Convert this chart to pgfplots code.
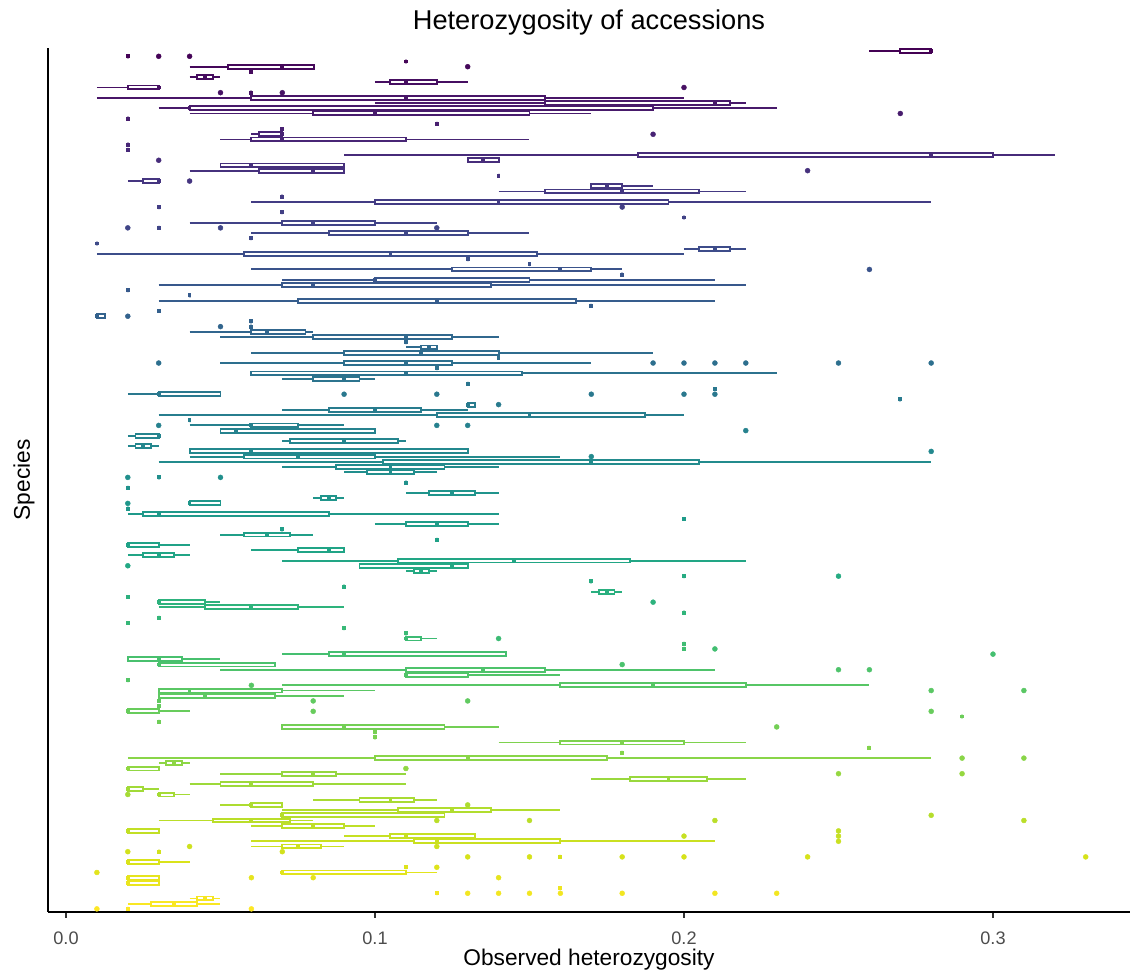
\documentclass[border=0pt]{standalone}
\usepackage{fontspec}
\setmainfont{Liberation Sans}
\usepackage{pgfplots}
\pgfplotsset{compat=1.18}
\usepgfplotslibrary{statistics}
% \bx{row}{lower whisker}{Q1}{median}{Q3}{upper whisker}{outliers}
\newcommand\bx[7]{%
  \edef\cv{\the\numexpr#1*1000/165\relax}%
  \edef\tmp{\noexpand\addplot[color of colormap=\cv, line width=0.95pt, mark=*, mark size=1.25pt, mark options={line width=0.2pt},
    boxplot prepared={draw position=\the\numexpr166-#1\relax, lower whisker=#2, lower quartile=#3, median=#4, upper quartile=#5, upper whisker=#6}] coordinates {#7};}%
  \tmp}
\newcommand\dg[3]{\bx{#1}{#2}{#2}{#2}{#2}{#2}{#3}}
\begin{document}
\begin{tikzpicture}
\useasboundingbox (-24pt,-30.5pt) rectangle (541pt,456pt);
\begin{axis}[
  at={(0,0)}, anchor=south west,
  scale only axis, width=541pt, height=432pt,
  xmin=-0.005825, xmax=0.34434, ymin=0.4, ymax=166.6,
  colormap/viridis,
  axis lines*=left, axis line style={line width=0.9pt, black, -},
  xtick={0,0.1,0.2,0.3}, xticklabels={0.0,0.1,0.2,0.3},
  ytick=\empty,
  tick align=outside, major tick length=3pt,
  xtick style={line width=0.9pt, black!80},
  /pgf/number format/assume math mode=true,
  xticklabel style={font=\fontsize{9.07}{10}\selectfont, text=black!70, anchor=base, yshift=-13.25pt},
  title={Heterozygosity of accessions},
  every axis title/.style={at={(axis description cs:0.5,1.02083)}, anchor=base, font=\fontsize{13.6}{15}\selectfont},
  xlabel={Observed heterozygosity},
  every axis x label/.style={at={(axis description cs:0.5,-0.0625)}, anchor=base, font=\fontsize{11.35}{13}\selectfont},
  ylabel={Species},
  every axis y label/.style={at={(axis description cs:-0.01664,0.5)}, rotate=90, anchor=base, font=\fontsize{11.35}{13}\selectfont},
  boxplot/draw direction=x,
  boxplot/box extend=0.75,
  boxplot/every box/.style={fill=white},
  boxplot/every median/.style={line width=1.9pt},
  boxplot/draw/lower whisker/.code={\draw (boxplot box cs:\pgfplotsboxplotvalue{lower whisker},0.5) -- (boxplot box cs:\pgfplotsboxplotvalue{lower quartile},0.5);},
  boxplot/draw/upper whisker/.code={\draw (boxplot box cs:\pgfplotsboxplotvalue{upper quartile},0.5) -- (boxplot box cs:\pgfplotsboxplotvalue{upper whisker},0.5);},
  clip=false,
]
\bx{0}{0.26}{0.27}{0.28}{0.28}{0.28}{}
\dg{1}{0.02}{(0,0.03) (0,0.04)}
\dg{2}{0.11}{}
\bx{3}{0.04}{0.0524}{0.07}{0.0804}{0.08}{(0,0.13)}
\dg{4}{0.06}{}
\bx{5}{0.04}{0.0425}{0.045}{0.0475}{0.05}{}
\bx{6}{0.10}{0.105}{0.11}{0.12}{0.13}{}
\bx{7}{0.01}{0.02}{0.03}{0.03}{0.03}{(0,0.20)}
\dg{8}{0.06}{(0,0.05) (0,0.07)}
\bx{9}{0.01}{0.06}{0.11}{0.155}{0.20}{}
\bx{10}{0.10}{0.155}{0.21}{0.215}{0.22}{}
\bx{11}{0.03}{0.04}{0.04}{0.19}{0.23}{}
\bx{12}{0.04}{0.08}{0.10}{0.15}{0.17}{(0,0.27)}
\dg{13}{0.02}{}
\dg{14}{0.12}{}
\dg{15}{0.07}{}
\bx{16}{0.06}{0.0625}{0.07}{0.07}{0.07}{(0,0.19)}
\bx{17}{0.05}{0.06}{0.07}{0.11}{0.15}{}
\dg{18}{0.02}{}
\dg{19}{0.02}{}
\bx{20}{0.09}{0.185}{0.28}{0.30}{0.32}{}
\bx{21}{0.13}{0.13}{0.135}{0.14}{0.14}{(0,0.03)}
\bx{22}{0.05}{0.05}{0.06}{0.09}{0.09}{}
\bx{23}{0.04}{0.0625}{0.08}{0.09}{0.09}{(0,0.24)}
\dg{24}{0.14}{}
\bx{25}{0.02}{0.025}{0.03}{0.03}{0.03}{(0,0.04)}
\bx{26}{0.17}{0.17}{0.175}{0.18}{0.19}{}
\bx{27}{0.14}{0.155}{0.18}{0.205}{0.22}{}
\dg{28}{0.07}{}
\bx{29}{0.06}{0.10}{0.14}{0.195}{0.28}{}
\dg{30}{0.03}{(0,0.18)}
\dg{31}{0.07}{}
\dg{32}{0.20}{}
\bx{33}{0.04}{0.07}{0.08}{0.10}{0.12}{}
\dg{34}{0.03}{(0,0.02) (0,0.05) (0,0.12)}
\bx{35}{0.06}{0.085}{0.11}{0.13}{0.15}{}
\dg{36}{0.06}{}
\dg{37}{0.01}{}
\bx{38}{0.20}{0.205}{0.21}{0.215}{0.22}{}
\bx{39}{0.01}{0.0575}{0.105}{0.1525}{0.20}{}
\dg{40}{0.13}{}
\dg{41}{0.15}{}
\bx{42}{0.06}{0.125}{0.16}{0.17}{0.18}{(0,0.26)}
\dg{43}{0.18}{}
\bx{44}{0.07}{0.10}{0.10}{0.15}{0.21}{}
\bx{45}{0.03}{0.07}{0.08}{0.1375}{0.22}{}
\dg{46}{0.02}{}
\dg{47}{0.04}{}
\bx{48}{0.03}{0.075}{0.12}{0.165}{0.21}{}
\dg{49}{0.17}{}
\dg{50}{0.03}{}
\bx{51}{0.01}{0.01}{0.01}{0.0125}{0.0125}{(0,0.02)}
\dg{52}{0.06}{}
\dg{53}{0.06}{(0,0.05)}
\bx{54}{0.04}{0.06}{0.065}{0.0775}{0.08}{}
\bx{55}{0.05}{0.08}{0.11}{0.125}{0.14}{}
\dg{56}{0.11}{}
\bx{57}{0.11}{0.115}{0.1175}{0.12}{0.12}{}
\bx{58}{0.06}{0.09}{0.115}{0.14}{0.19}{}
\dg{59}{0.14}{}
\bx{60}{0.05}{0.09}{0.11}{0.125}{0.17}{(0,0.03) (0,0.19) (0,0.20) (0,0.21) (0,0.22) (0,0.25) (0,0.28)}
\dg{61}{0.12}{}
\bx{62}{0.06}{0.06}{0.11}{0.1475}{0.23}{}
\bx{63}{0.07}{0.08}{0.09}{0.095}{0.10}{}
\dg{64}{0.13}{}
\dg{65}{0.21}{}
\bx{66}{0.02}{0.03}{0.03}{0.05}{0.05}{(0,0.09) (0,0.12) (0,0.17) (0,0.20) (0,0.21)}
\dg{67}{0.27}{}
\bx{68}{0.13}{0.13}{0.13}{0.1325}{0.1325}{(0,0.14)}
\bx{69}{0.07}{0.085}{0.10}{0.115}{0.13}{}
\bx{70}{0.03}{0.12}{0.15}{0.1875}{0.20}{}
\dg{71}{0.04}{}
\bx{72}{0.04}{0.06}{0.06}{0.075}{0.09}{(0,0.03) (0,0.12) (0,0.13)}
\bx{73}{0.05}{0.05}{0.055}{0.10}{0.10}{(0,0.22)}
\bx{74}{0.02}{0.0225}{0.03}{0.03}{0.03}{}
\bx{75}{0.07}{0.0725}{0.09}{0.1075}{0.11}{}
\bx{76}{0.02}{0.0225}{0.025}{0.0275}{0.03}{}
\bx{77}{0.04}{0.04}{0.06}{0.13}{0.13}{(0,0.28)}
\bx{78}{0.04}{0.0575}{0.075}{0.10}{0.16}{(0,0.17)}
\bx{79}{0.03}{0.1025}{0.17}{0.205}{0.28}{}
\bx{80}{0.07}{0.0875}{0.105}{0.1225}{0.14}{}
\bx{81}{0.09}{0.0975}{0.105}{0.1125}{0.12}{}
\dg{82}{0.03}{(0,0.02) (0,0.05)}
\dg{83}{0.11}{}
\dg{84}{0.02}{}
\bx{85}{0.11}{0.1175}{0.125}{0.1325}{0.14}{}
\bx{86}{0.08}{0.0825}{0.085}{0.0875}{0.09}{}
\bx{87}{0.04}{0.04}{0.04}{0.05}{0.05}{(0,0.02)}
\dg{88}{0.02}{}
\bx{89}{0.02}{0.025}{0.03}{0.085}{0.14}{}
\dg{90}{0.20}{}
\bx{91}{0.10}{0.11}{0.12}{0.13}{0.14}{}
\dg{92}{0.07}{}
\bx{93}{0.05}{0.0575}{0.065}{0.0725}{0.08}{}
\dg{94}{0.12}{}
\bx{95}{0.02}{0.02}{0.02}{0.03}{0.04}{}
\bx{96}{0.06}{0.075}{0.085}{0.09}{0.09}{}
\bx{97}{0.02}{0.025}{0.03}{0.035}{0.04}{}
\bx{98}{0.07}{0.1075}{0.145}{0.1825}{0.22}{}
\bx{99}{0.095}{0.095}{0.125}{0.13}{0.13}{(0,0.02)}
\bx{100}{0.11}{0.1125}{0.115}{0.1175}{0.12}{}
\dg{101}{0.20}{(0,0.25)}
\dg{102}{0.17}{}
\dg{103}{0.09}{}
\bx{104}{0.17}{0.1725}{0.175}{0.1775}{0.18}{}
\dg{105}{0.02}{}
\bx{106}{0.03}{0.03}{0.03}{0.045}{0.05}{(0,0.19)}
\bx{107}{0.03}{0.045}{0.06}{0.075}{0.09}{}
\dg{108}{0.20}{}
\dg{109}{0.03}{}
\dg{110}{0.02}{}
\dg{111}{0.09}{}
\dg{112}{0.11}{}
\bx{113}{0.11}{0.11}{0.11}{0.115}{0.12}{(0,0.14)}
\dg{114}{0.20}{}
\dg{115}{0.20}{(0,0.21)}
\bx{116}{0.07}{0.085}{0.09}{0.1425}{0.1425}{(0,0.30)}
\bx{117}{0.02}{0.02}{0.03}{0.0375}{0.05}{}
\bx{118}{0.03}{0.03}{0.03}{0.0675}{0.0675}{(0,0.18)}
\bx{119}{0.05}{0.11}{0.135}{0.155}{0.21}{(0,0.25) (0,0.26)}
\bx{120}{0.11}{0.11}{0.11}{0.13}{0.16}{}
\dg{121}{0.02}{}
\bx{122}{0.07}{0.16}{0.19}{0.22}{0.26}{(0,0.06)}
\bx{123}{0.03}{0.03}{0.04}{0.07}{0.10}{(0,0.28) (0,0.31)}
\bx{124}{0.03}{0.03}{0.045}{0.0675}{0.09}{}
\dg{125}{0.03}{(0,0.08) (0,0.13)}
\dg{126}{0.03}{}
\bx{127}{0.02}{0.02}{0.02}{0.03}{0.04}{(0,0.08) (0,0.28)}
\dg{128}{0.29}{}
\dg{129}{0.03}{}
\bx{130}{0.07}{0.07}{0.09}{0.1225}{0.14}{(0,0.23)}
\dg{131}{0.10}{}
\dg{132}{0.10}{}
\bx{133}{0.14}{0.16}{0.18}{0.20}{0.22}{}
\dg{134}{0.26}{}
\dg{135}{0.18}{}
\bx{136}{0.02}{0.10}{0.13}{0.175}{0.28}{(0,0.29) (0,0.31)}
\bx{137}{0.03}{0.0325}{0.035}{0.0375}{0.04}{}
\bx{138}{0.02}{0.02}{0.02}{0.03}{0.03}{(0,0.11)}
\bx{139}{0.05}{0.07}{0.08}{0.0875}{0.11}{(0,0.25) (0,0.29)}
\bx{140}{0.17}{0.1825}{0.195}{0.2075}{0.22}{}
\bx{141}{0.04}{0.05}{0.06}{0.08}{0.11}{}
\bx{142}{0.02}{0.02}{0.02}{0.025}{0.03}{}
\bx{143}{0.03}{0.03}{0.03}{0.035}{0.04}{(0,0.02)}
\bx{144}{0.08}{0.095}{0.105}{0.1125}{0.12}{}
\bx{145}{0.05}{0.06}{0.06}{0.07}{0.07}{(0,0.13)}
\bx{146}{0.07}{0.1075}{0.125}{0.1375}{0.16}{}
\bx{147}{0.07}{0.07}{0.07}{0.1225}{0.1225}{(0,0.28)}
\bx{148}{0.03}{0.0475}{0.06}{0.0725}{0.08}{(0,0.12) (0,0.15) (0,0.21) (0,0.31)}
\bx{149}{0.06}{0.07}{0.08}{0.09}{0.10}{}
\bx{150}{0.02}{0.02}{0.02}{0.03}{0.03}{(0,0.25)}
\bx{151}{0.09}{0.105}{0.11}{0.1325}{0.1325}{(0,0.20) (0,0.25)}
\bx{152}{0.06}{0.1125}{0.12}{0.16}{0.21}{(0,0.25)}
\bx{153}{0.06}{0.07}{0.075}{0.0825}{0.09}{(0,0.04) (0,0.12)}
\dg{154}{0.03}{(0,0.02) (0,0.07)}
\dg{155}{0.16}{(0,0.13) (0,0.15) (0,0.18) (0,0.20) (0,0.24) (0,0.33)}
\bx{156}{0.02}{0.02}{0.02}{0.03}{0.04}{}
\dg{157}{0.11}{(0,0.12)}
\bx{158}{0.07}{0.07}{0.07}{0.11}{0.12}{(0,0.01)}
\bx{159}{0.02}{0.02}{0.02}{0.03}{0.03}{(0,0.06) (0,0.08) (0,0.14)}
\bx{160}{0.02}{0.02}{0.02}{0.03}{0.03}{}
\dg{161}{0.16}{}
\dg{162}{0.12}{(0,0.13) (0,0.14) (0,0.15) (0,0.16) (0,0.18) (0,0.21) (0,0.23)}
\bx{163}{0.04}{0.0425}{0.045}{0.0475}{0.05}{}
\bx{164}{0.02}{0.0275}{0.035}{0.0425}{0.05}{}
\dg{165}{0.02}{(0,0.01) (0,0.06)}
\end{axis}
\end{tikzpicture}
\end{document}
